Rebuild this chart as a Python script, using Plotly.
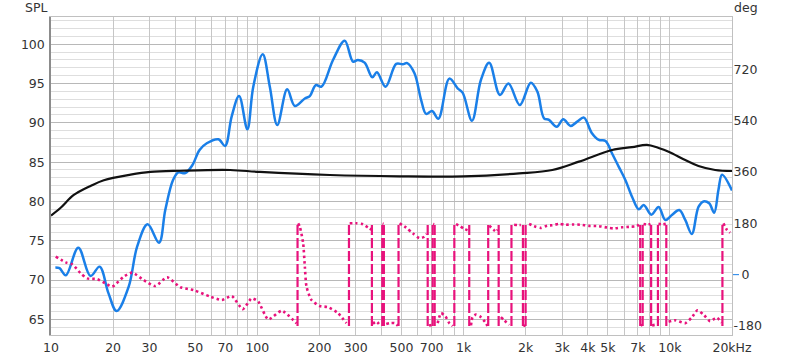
import math
import plotly.graph_objects as go

# ---------------- data ----------------
spl_freq = [10.5, 11.0, 11.8, 13.56, 15.55, 17.2, 19.0, 20.8, 23.8, 26.15, 29.4, 33.4, 35.8, 39.0,
            41.4, 44.7, 48.4, 52.5, 56.9, 64.8, 69.8, 75.1, 81.6, 89.5, 95.6, 106.2, 115.0, 125,
            139.6, 152.1, 170, 179.7, 192.1, 204.7, 232.8, 265.3, 290.9, 307.5, 331.3, 361, 380,
            418.6, 471.4, 507.4, 533, 578, 622.6, 658.3, 703.6, 754.6, 853.1, 935.4, 989, 1098,
            1213, 1331, 1499, 1650, 1873, 2117, 2278, 2454, 2594, 2827, 3041, 3302, 3554, 3830,
            4172, 4525, 4874, 5246, 5652, 6089, 6553, 7062, 7464, 8131, 8818, 9502, 10225, 11104,
            11869, 12774, 13758, 14547, 15500, 16390, 17190, 17900, 20000]
spl_db = [71.6, 71.5, 70.6, 74.1, 70.5, 71.7, 68.3, 66.05, 69.15, 74.24, 77.1, 74.75, 78.9, 82.7,
          83.7, 83.6, 84.6, 86.55, 87.4, 87.9, 87.06, 90.8, 93.42, 89.18, 94.6, 98.73, 94.6, 89.73,
          94.27, 92.15, 93.1, 93.4, 94.8, 94.6, 98.0, 100.46, 97.8, 98.0, 97.66, 95.8, 96.44,
          94.6, 97.5, 97.45, 97.6, 96.3, 92.9, 91.13, 91.5, 90.53, 95.63, 94.4, 93.84, 90.28,
          95.45, 97.66, 93.55, 95.0, 92.27, 95.1, 93.97, 90.58, 90.37, 89.5, 90.45, 89.6, 90.15, 90.66,
          88.75, 87.82, 87.7, 86.1, 84.4, 82.7, 80.6, 79.0, 79.55, 78.3, 79.3, 77.64, 78.27, 78.9,
          77.64, 75.86, 79.3, 80.0, 79.76, 78.57, 81.46, 83.4, 81.4]

black_freq = [10, 11.14, 12.9, 15.55, 18.03, 24.3, 30.3, 42.3, 73.8, 103, 224.5, 489, 997, 1858,
              2692, 3622, 5246, 6553, 7742, 8818, 9856, 11869, 13758, 16570, 20000]
black_db = [78.2, 79.2, 80.82, 81.97, 82.7, 83.4, 83.75, 83.9, 84.0, 83.75, 83.36, 83.2, 83.2, 83.57,
            84.0, 85.06, 86.55, 86.9, 87.2, 86.8, 86.33, 85.27, 84.5, 84.0, 83.87]

# wrapped phase (deg); None separates the pieces between wraps
phase_freq = [10.54, 11.78, 12.69, 13.92, 14.99, 16.76, 18.73, 19.80, 22.52, 24.74, 28.14, 32.05,
              36.51, 42.33, 49.08, 59.09, 67.3, 75.19, 85.03, 93.96, 101.1, 113.0, 131.2, 155, None,
              157.8, 160.8, 166.8, 170, 173.2, 183, 200.8, 220.3, 246.2, 270.3, None,
              280.4, 302.2, 325.1, 343.8, 357, None,
              363.4, 377.4, 391.5, None,
              405, 409, None,
              421.8, 437.7, 462.7, 480, None,
              489.2, 526.9, 566.9, 610.9, 645.8, 662.6, None,
              680, 700, None,
              712, 720, None,
              748.7, 777.6, 815.7, 852.8, 884.8, None,
              918.9, 960.7, 1008, 1045, None,
              1086, 1105, 1148, 1214, 1283, 1306, None,
              1331, 1400, 1440, 1465, None,
              1516, 1573, 1663, None,
              1758, 1824, 1894, None,
              1950, 1990, None,
              2077, 2196, 2366, 2545, 2692, 2900, 3124, 3363, 3691, 4048, 4524, 4963, 5346, 5862,
              6438, 6926, 7114, None,
              7220, 7350, None,
              7450, 7800, 8050, None,
              8200, 8500, 8700, None,
              8800, 9200, 9550, None,
              9856, 10617, 11869, 12774, 13610, 14547, 15672, 16866, 17830, None,
              18170, 18855, 19580]
phase_deg = [63, 43, 36, 5, -13, -16, -34, -42, -7, 7, -19, -40,
             -9, -44, -54, -77, -89, -75, -121, -83, -95, -157, -127, -171, None,
             180, 168, 110, 28, -42, -89, -110, -114, -135, -170, None,
             180, 180, 177, 165, 158, None,
             -172, -164, -176, None,
             179, 178, None,
             -173, -170, -170, -179, None,
             180, 165, 145, 128, 133, 143, None,
             -178, -177, None,
             178, 177, None,
             -170, -135, -146, -170, -180, None,
             177, 170, 160, 156, None,
             -178, -149, -140, -149, -170, -180, None,
             172, 157, 150, 158, None,
             -149, -160, -176, None,
             175, 174, 174, None,
             -179, -179, None,
             178, 170, 164, 172, 173, 178, 175, 176, 175, 171, 170, 165, 162, 166,
             168, 170, 179, None,
             -178, -176, None,
             178, 175, 178, None,
             -178, -176, -178, None,
             178, 176, 178, None,
             -165, -160, -170, -150, -125, -140, -163, -151, -168, None,
             180, 158, 147]
wrap_freq = [156.7, 278.2, 359.4, 403.5, 410.7, 483.7, 669.9, 708.1, 724.1, 901.7, 1065, 1316,
             1479, 1706, 1939, 1998, 7180, 7380, 8110, 8750, 9607, 17972]

x_tickvals = [10, 20, 30, 40, 50, 60, 70, 80, 90,
              100, 200, 300, 400, 500, 600, 700, 800, 900,
              1000, 2000, 3000, 4000, 5000, 6000, 7000, 8000, 9000,
              10000, 20000]
x_ticktext = ["10", "20", "30", "", "50", "", "70", "", "",
              "100", "200", "300", "", "500", "", "700", "", "",
              "1k", "2k", "3k", "4k", "5k", "", "7k", "", "",
              "10k", "20kHz"]
y_tickvals = [65, 70, 75, 80, 85, 90, 95, 100]
y2_tickvals = [-180, 0, 180, 360, 540, 720]
y2_ticktext = ["-180", "\u00a0\u00a00", "180", "360", "540", "720"]

# ---------------- styling ----------------
BLUE = "#1a7fe8"
PINK = "#e8127c"
FONT = "DejaVu Sans"
TXT = "#333333"
FS = 12.5

fig = go.Figure()

# wrap verticals (dashed)
wx, wy = [], []
for w in wrap_freq:
    wx += [w, w, None]
    wy += [-180, 180, None]
fig.add_trace(go.Scatter(x=wx, y=wy, yaxis="y2", mode="lines",
                         line=dict(color=PINK, width=2.2, dash="10px,3px"),
                         hoverinfo="skip", showlegend=False))
# phase dotted
fig.add_trace(go.Scatter(x=phase_freq, y=phase_deg, yaxis="y2", mode="lines",
                         line=dict(color=PINK, width=2.6, dash="2.5px,3px", shape="spline", smoothing=0.6),
                         connectgaps=False, hoverinfo="skip", showlegend=False))
# SPL
fig.add_trace(go.Scatter(x=spl_freq, y=spl_db, mode="lines",
                         line=dict(color=BLUE, width=2.5, shape="spline", smoothing=1.0),
                         hoverinfo="skip", showlegend=False))
# black curve
fig.add_trace(go.Scatter(x=black_freq, y=black_db, mode="lines",
                         line=dict(color="#111111", width=2.2, shape="spline", smoothing=1.0),
                         hoverinfo="skip", showlegend=False))

xr = [1, math.log10(20000)]
title_y = 1 + 10 / 318
fig.update_layout(
    width=800, height=358,
    margin=dict(l=51, r=68, t=17, b=23, autoexpand=False),
    paper_bgcolor="white", plot_bgcolor="white",
    font=dict(family=FONT, size=FS, color=TXT),
    xaxis=dict(type="log", range=xr, tickvals=x_tickvals, ticktext=x_ticktext, automargin=False,
               showgrid=True, gridcolor="#c6c6c6", gridwidth=1, zeroline=False,
               showline=True, linecolor="#c0c0c0", linewidth=1, mirror=True,
               ticks="outside", ticklen=1, tickcolor="rgba(0,0,0,0)",
               tickfont=dict(family=FONT, size=FS, color=TXT)),
    xaxis2=dict(type="log", range=xr, overlaying="x", tickvals=[100, 1000, 10000], automargin=False,
                showticklabels=False, showgrid=True, gridcolor="#8a8a8a", gridwidth=1,
                zeroline=False, showline=False, ticks=""),
    yaxis=dict(range=[63, 103.47], tickvals=y_tickvals, showgrid=True, gridcolor="#b8b8b8",
               automargin=False, zeroline=False, showline=True, linecolor="#8c8c8c", linewidth=1.5,
               minor=dict(dtick=1, showgrid=True, gridcolor="#dedede", ticks=""),
               ticks="outside", ticklen=2, tickcolor="rgba(0,0,0,0)",
               tickfont=dict(family=FONT, size=FS, color=TXT)),
    yaxis2=dict(range=[-211.6, 903.4], overlaying="y", side="right", tickvals=y2_tickvals,
                ticktext=y2_ticktext, showgrid=False, zeroline=False, showline=True,
                linecolor="#c0c0c0", linewidth=1, automargin=False,
                ticks="", ticklabelstandoff=-2,
                tickfont=dict(family=FONT, size=FS, color=TXT)),
    annotations=[
        dict(text="SPL", xref="paper", yref="paper", x=0, y=title_y, xanchor="right", yanchor="middle",
             xshift=-2, showarrow=False, font=dict(family=FONT, size=FS, color=TXT)),
        dict(text="deg", xref="paper", yref="paper", x=1, y=title_y, xanchor="left", yanchor="middle",
             xshift=0, showarrow=False, font=dict(family=FONT, size=FS, color=TXT)),
    ],
    shapes=[
        dict(type="line", xref="paper", yref="y2", x0=1 + 1 / 681, x1=1 + 7 / 681, y0=0, y1=0,
             line=dict(color=BLUE, width=1)),
    ],
)

fig.write_html("out.html", config={"displayModeBar": False},
               post_script="document.body.style.margin='0';document.body.style.padding='0';"
                           "document.body.style.overflow='hidden';")
